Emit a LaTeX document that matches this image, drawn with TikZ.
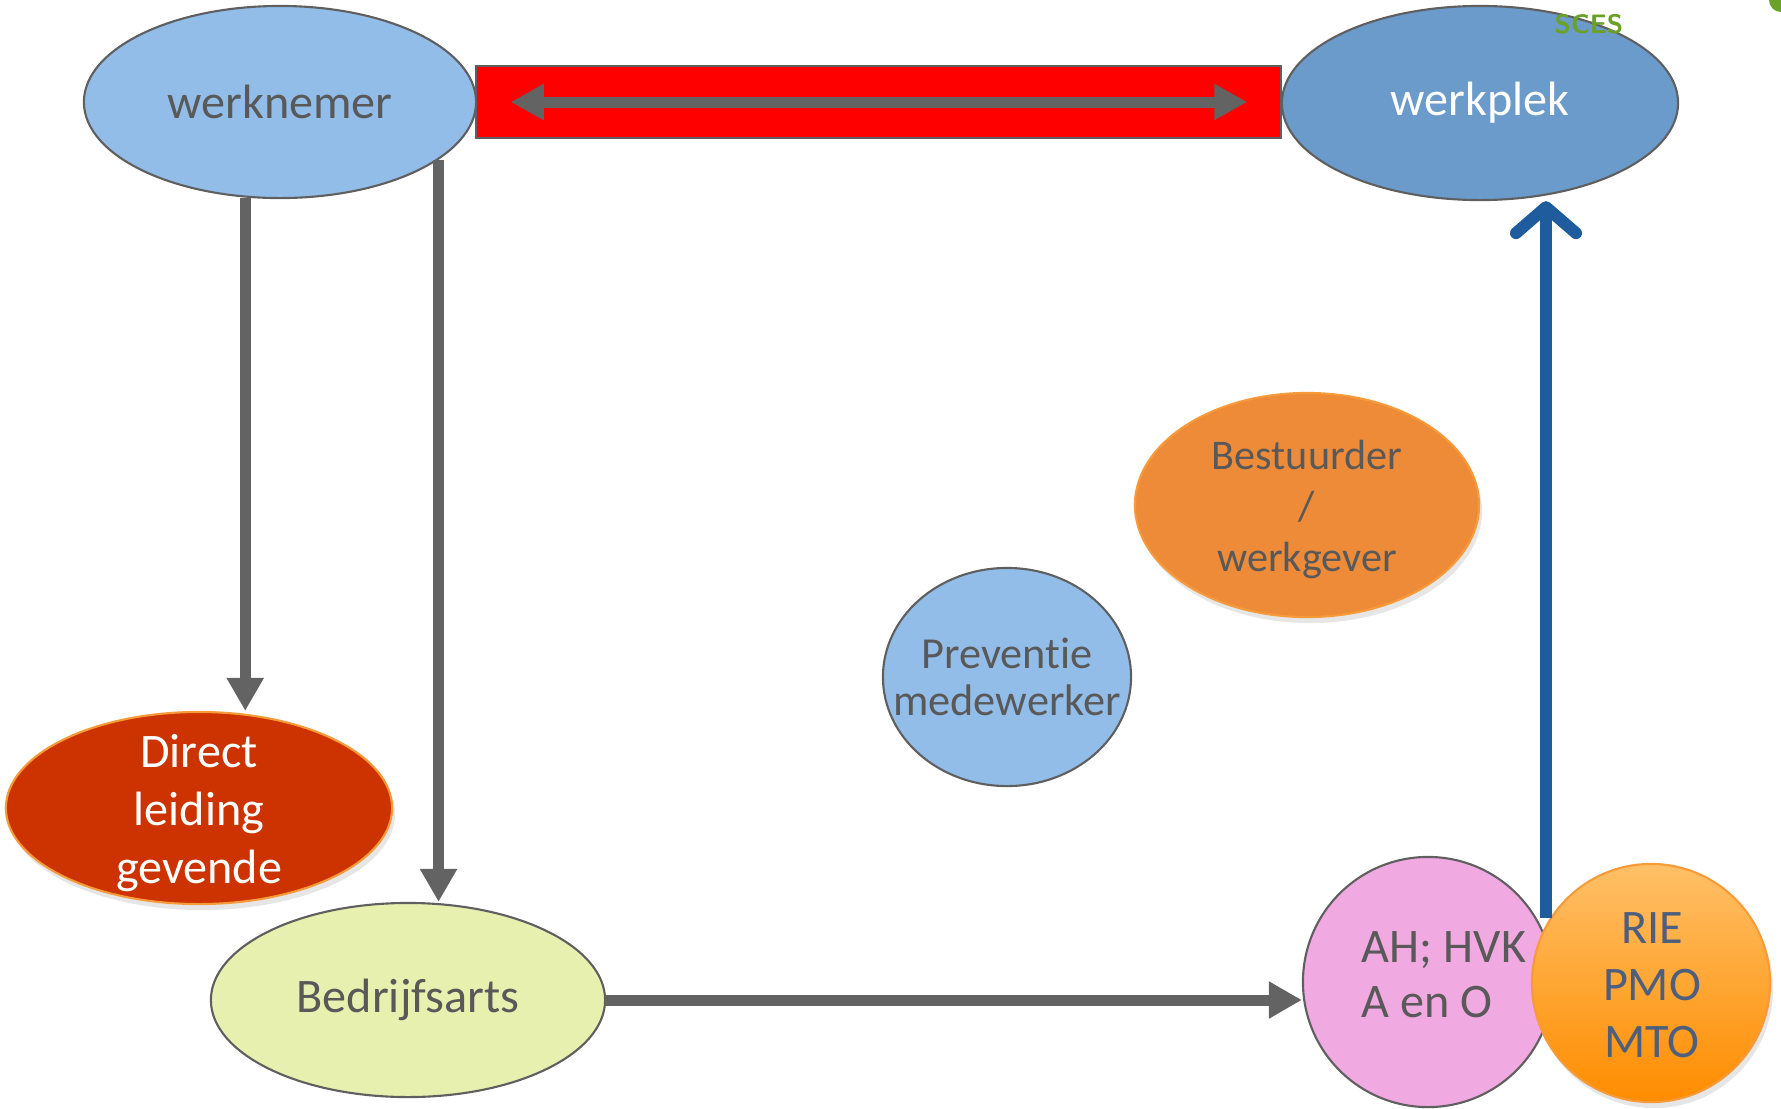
\documentclass[tikz,border=0pt]{standalone}
\usepackage{fontspec}
\setmainfont{Carlito}[Ligatures=NoCommon]
\usetikzlibrary{arrows.meta,shapes.geometric,shadows,calc}

\definecolor{lijngrijs}{HTML}{636363}
\definecolor{randgrijs}{HTML}{5F5F5F}
\definecolor{tekstgrijs}{HTML}{595959}
\definecolor{lichtblauw}{HTML}{93BDE9}
\definecolor{middenblauw}{HTML}{6B9BCB}
\definecolor{donkerblauw}{HTML}{1F5C9E}
\definecolor{steenrood}{HTML}{CC3300}
\definecolor{oranjerand}{HTML}{F79A3A}
\definecolor{oranje}{HTML}{EE8B38}
\definecolor{geelgroen}{HTML}{E7F0AE}
\definecolor{roze}{HTML}{F0A9E1}
\definecolor{logogroen}{HTML}{6AA127}
\definecolor{blauwtekst}{HTML}{4E5F7E}

\tikzset{
    bol/.style={ellipse, draw=randgrijs, line width=0.6pt, inner sep=0pt,
        text=tekstgrijs, align=center, font=\fontsize{13.7}{16.5}\selectfont},
    tekst/.style={text=tekstgrijs, align=center, inner sep=0pt, font=\fontsize{13.7}{16.5}\selectfont},
    schaduw/.style={drop shadow={opacity=0.2, shadow xshift=0.03cm, shadow yshift=-0.06cm}},
    grijspijl/.style={draw=lijngrijs, line width=0.11cm,
        -{Triangle[length=0.33cm,width=0.35cm]}},
    blauwpijl/.style={draw=donkerblauw, line width=0.12cm,
        -{Straight Barb[length=0.26cm,width=0.6cm,round]}}
}

\begin{document}
\begin{tikzpicture}[x=0.01cm, y=-0.01cm]
        \useasboundingbox (0, 0) rectangle (1781, 1108);
        \fill[logogroen] (1781, 0) circle (12);

        \node[bol, fill=lichtblauw, minimum width=3.92cm, minimum height=1.92cm]
            (wn) at (280, 102) {werknemer};
        \node[bol, fill=middenblauw, text=white, minimum width=3.96cm, minimum height=1.94cm]
            (wp) at (1480, 103) {werkplek};
        % stukje logo over de werkplek
        \node[text=logogroen, font=\sffamily\bfseries\fontsize{7.6}{8}\selectfont, anchor=east, inner sep=0pt]
            (logo) at (1624, 24) {SCES};
        \node[draw=randgrijs, fill=red, line width=0.6pt, minimum width=8.05cm, minimum height=0.72cm]
            (balk) at (878.5, 102) {};
        \draw[draw=lijngrijs, line width=0.11cm,
            {Triangle[length=0.33cm,width=0.34cm]}-{Triangle[length=0.33cm,width=0.34cm]}]
            ([xshift=0.36cm]balk.west) -- ([xshift=-0.35cm]balk.east);

        \node[bol, schaduw, fill=steenrood, draw=oranjerand, minimum width=3.86cm, minimum height=1.92cm]
            (dl) at (199, 808) {};
        \node[tekst, text=white] (dltekst) at (199, 813) {Direct\\leiding\\gevende};
        \node[bol, fill=geelgroen, minimum width=3.94cm, minimum height=1.94cm]
            (ba) at (408, 1000) {Bedrijfsarts};

        \node[bol, schaduw, fill=oranje, draw=oranjerand, minimum width=3.44cm, minimum height=2.24cm]
            (bw) at (1307, 505) {};
        \node[tekst, font=\fontsize{12}{14.5}\selectfont] (bwtekst) at (1307, 509) {Bestuurder\\/\\werkgever};
        \node[bol, fill=lichtblauw, minimum width=2.48cm, minimum height=2.18cm]
            (pm) at (1007, 677) {};
        \node[tekst, font=\fontsize{12.6}{13.4}\selectfont] (pmtekst) at (pm) {Preventie\\medewerker};

        \node[circle, draw=randgrijs, fill=roze, line width=0.6pt, minimum size=2.5cm]
            (ah) at (1428, 982) {};
        \node[tekst, align=left, font=\fontsize{13.7}{15.6}\selectfont]
            (ahtekst) at (1444, 975) {AH; HVK\\A en O};
        \node[circle, schaduw, draw=oranjerand, line width=0.6pt, top color=orange!55!white!90!yellow,
            bottom color=orange!90!yellow, minimum size=2.38cm]
            (rie) at (1651, 983) {};
        \node[tekst, text=blauwtekst, font=\fontsize{13.7}{16.2}\selectfont]
            (rietekst) at (1652, 985) {RIE\\PMO\\MTO};

        % verbindingen
        \draw[grijspijl] (wn.250) -- (wn.250 |- dl.north);
        \draw[grijspijl] (wn.-20) -- (wn.-20 |- ba.north);
        \draw[grijspijl] (ba.east) -- (ba.east -| ah.west);
        \coordinate (vanrie) at (1546, 918);
        \draw[blauwpijl] (vanrie) -- (vanrie |- wp.south);
\end{tikzpicture}
\end{document}
